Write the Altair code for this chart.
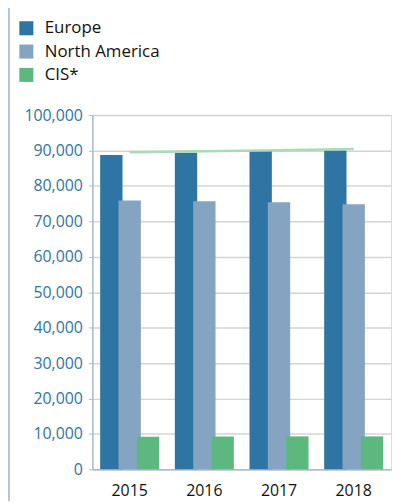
import altair as alt
import pandas as pd

years = ["2015", "2016", "2017", "2018"]
series = ["Europe", "North America", "CIS*"]
europe = [88700, 89400, 89900, 90000]
north_america = [75900, 75700, 75400, 74800]
cis = [9200, 9300, 9300, 9300]
trend = [89500, 89800, 90100, 90400]
colors = ["#2e75a3", "#84a4c2", "#5cb87f"]
y_ticks = [0, 10000, 20000, 30000, 40000, 50000, 60000, 70000, 80000, 90000, 100000]

rows = []
for name, vals in zip(series, [europe, north_america, cis]):
    for yr, v in zip(years, vals):
        rows.append({"year": yr, "series": name, "value": v})
bars_df = pd.DataFrame(rows)
line_df = pd.DataFrame({"year": years, "value": trend})

FONT = "Open Sans"

x_axis = alt.Axis(title=None, labelAngle=0, ticks=False, labelFontSize=16,
                  labelColor="#111111", labelPadding=13, domainColor="#a9bdd1",
                  domainWidth=1.5, grid=False, labelFont=FONT)
y_axis = alt.Axis(title=None, values=y_ticks, format=",d", labelFontSize=16,
                  labelColor="#2e75a6", labelPadding=6, tickSize=4,
                  tickColor="#a9bdd1", domainColor="#a9bdd1", domainWidth=1.5,
                  grid=True, gridColor="#d4d4d4", gridWidth=1.5, labelFont=FONT)
x_scale = alt.Scale(paddingInner=0, paddingOuter=0)
y_scale = alt.Scale(domain=[0, 100000])

bars = alt.Chart(bars_df).mark_bar(width=22.5).encode(
    x=alt.X("year:N", sort=years, scale=x_scale, axis=x_axis),
    xOffset=alt.XOffset("series:N", sort=series,
                        scale=alt.Scale(paddingInner=0, paddingOuter=0.535)),
    y=alt.Y("value:Q", scale=y_scale, axis=y_axis),
    color=alt.Color("series:N", sort=series,
                    scale=alt.Scale(domain=series, range=colors),
                    legend=alt.Legend(title=None, orient="none", legendX=-75, legendY=-96,
                                      symbolType="square", symbolSize=200,
                                      symbolStrokeWidth=0, labelFontSize=17,
                                      labelFont=FONT, labelColor="#111111",
                                      rowPadding=5.5, labelOffset=10, padding=0)),
)

line = alt.Chart(line_df).mark_line(color="#a9dbb4", strokeWidth=2.5).encode(
    x=alt.X("year:N", sort=years, scale=x_scale, axis=x_axis),
    y=alt.Y("value:Q", scale=y_scale, axis=y_axis),
)

frame = alt.Chart(line_df).mark_rule(color="#b6c7d8", strokeWidth=1.5).encode(
    x=alt.value(-84), y=alt.value(-110), y2=alt.value(400)
)

chart = alt.layer(bars, line, frame).properties(
    width=301, height=357,
    padding={"left": 85, "top": 106, "right": 4, "bottom": 30},
    autosize=alt.AutoSizeParams(type="none"),
).configure_view(stroke="transparent", strokeWidth=0).configure(font=FONT)

chart.save("out.html", embed_options={"renderer": "svg", "actions": False})
